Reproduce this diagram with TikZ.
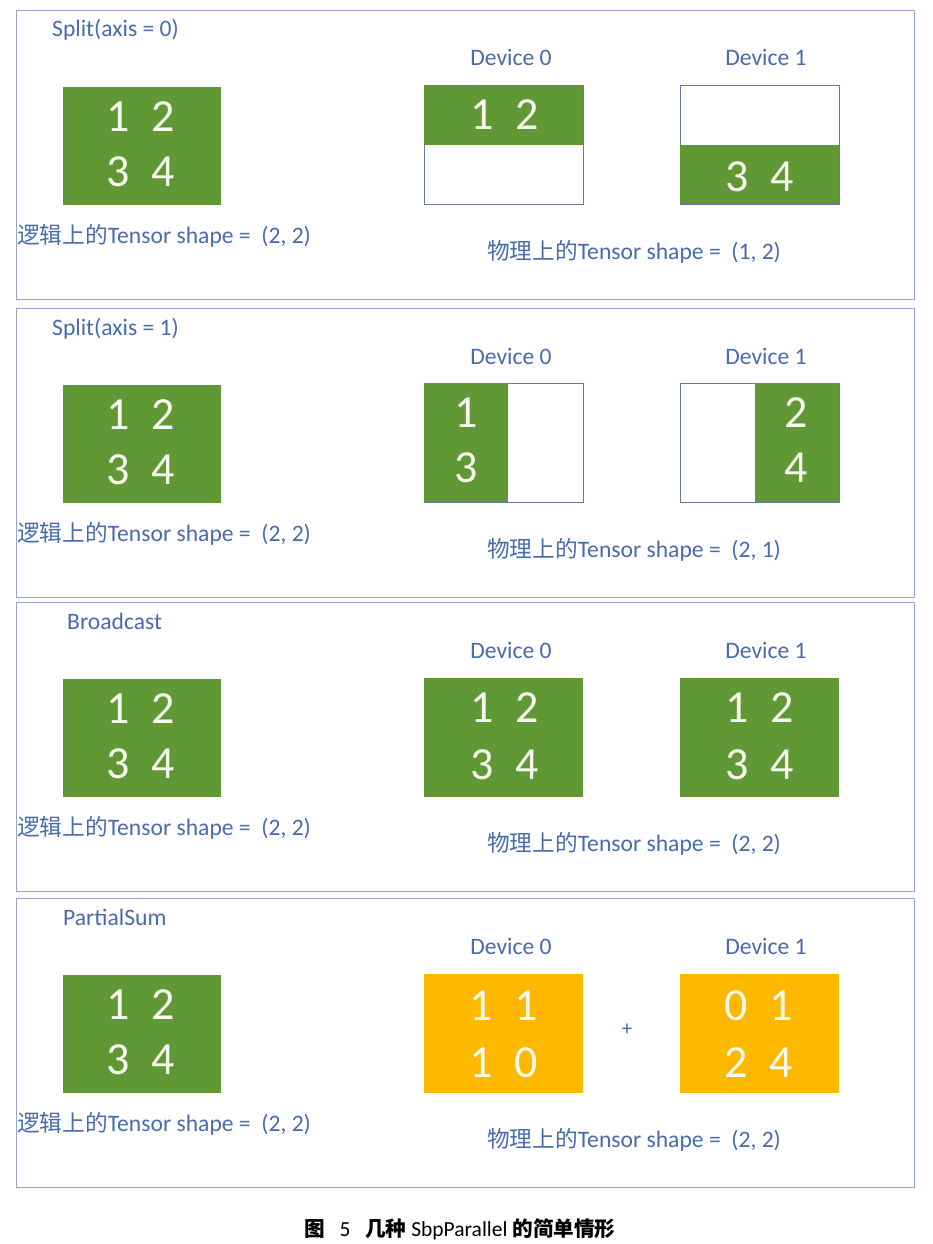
\documentclass[tikz,border=0pt]{standalone}
\usepackage{fontspec}
\setmainfont{Carlito}
\newfontfamily\cjk{Noto Sans CJK SC}[Scale=0.96]
\definecolor{tgreen}{RGB}{97,152,54}
\definecolor{torange}{RGB}{255,184,0}
\definecolor{lblc}{RGB}{72,108,170}
\definecolor{panelc}{RGB}{150,165,195}
\definecolor{boxc}{RGB}{100,120,160}
\definecolor{numc}{RGB}{246,250,236}
\begin{document}
\begin{tikzpicture}[x=1pt,y=-1pt,
  panel/.style={draw=panelc, line width=0.9pt, minimum width=898pt, minimum height=289pt, inner sep=0pt},
  gbox/.style={fill=tgreen, minimum width=158pt, minimum height=118pt, inner sep=0pt},
  obox/.style={fill=torange, minimum width=159pt, minimum height=119pt, inner sep=0pt},
  devbox/.style={draw=boxc, fill=white, line width=0.7pt, minimum width=159pt, minimum height=119pt, inner sep=0pt},
  gpart/.style={fill=tgreen, inner sep=0pt},
  num/.style={text=numc, font=\fontsize{46}{46}\selectfont, inner sep=0pt},
  lbl/.style={text=lblc, font=\fontsize{23.6}{23.6}\selectfont, inner sep=0pt},
  captext/.style={text=black, font=\fontsize{21.5}{21.5}\selectfont, inner sep=0pt}]
\useasboundingbox[fill=white] (0,0) rectangle (932,1244);

\foreach \i/\T/\ttl/\tx/\phys in {1/10/{Split(axis = 0)}/52/{(1, 2)}, 2/308/{Split(axis = 1)}/52/{(2, 1)}, 3/602/{Broadcast}/67/{(2, 2)}, 4/898/{PartialSum}/63/{(2, 2)}} {
  \node[panel, anchor=north west] (panel\i) at (16,\T) {};
  \node[lbl, anchor=base west] (title\i) at (\tx,\T+27) {\ttl};
  \node[lbl, anchor=base] (devA\i) at (511,\T+56) {Device 0};
  \node[lbl, anchor=base] (devB\i) at (766,\T+56) {Device 1};
  \node[gbox, anchor=north west] (log\i) at (63,\T+77) {};
  \node[num] (log\i a) at (118,\T+107) {1};
  \node[num] (log\i b) at (163,\T+107) {2};
  \node[num] (log\i c) at (118,\T+162) {3};
  \node[num] (log\i d) at (163,\T+162) {4};
  \node[lbl, anchor=base west] (logt\i) at (17,\T+233) {{\cjk 逻辑上的}Tensor shape =\ \ (2, 2)};
  \node[lbl, anchor=base west] (phys\i) at (487,\T+249) {{\cjk 物理上的}Tensor shape =\ \ \phys};
}

% panel 1: split axis 0
\node[devbox, anchor=north west] (d0p1) at (424,85) {};
\node[gpart, minimum width=159pt, minimum height=60pt, anchor=north west] (d0p1g) at (424,85) {};
\node[num] (d0p1a) at (482,115) {1};
\node[num] (d0p1b) at (527,115) {2};
\node[devbox, anchor=north west] (d1p1) at (680,85) {};
\node[gpart, minimum width=159pt, minimum height=59pt, anchor=south west] (d1p1g) at (680,204) {};
\node[num] (d1p1a) at (737,177) {3};
\node[num] (d1p1b) at (782,177) {4};

% panel 2: split axis 1
\node[devbox, anchor=north west] (d0p2) at (424,383) {};
\node[gpart, minimum width=84pt, minimum height=119pt, anchor=north west] (d0p2g) at (424,383) {};
\node[num] (d0p2a) at (466,413) {1};
\node[num] (d0p2b) at (466,468) {3};
\node[devbox, anchor=north west] (d1p2) at (680,383) {};
\node[gpart, minimum width=84pt, minimum height=119pt, anchor=north east] (d1p2g) at (839,383) {};
\node[num] (d1p2a) at (796,413) {2};
\node[num] (d1p2b) at (796,468) {4};

% panel 3: broadcast
\node[gbox, minimum width=159pt, minimum height=119pt, anchor=north west] (d0p3) at (424,678) {};
\node[num] (d0p3a) at (482,708) {1};
\node[num] (d0p3b) at (527,708) {2};
\node[num] (d0p3c) at (482,765) {3};
\node[num] (d0p3d) at (527,765) {4};
\node[gbox, minimum width=159pt, minimum height=119pt, anchor=north west] (d1p3) at (680,678) {};
\node[num] (d1p3a) at (737,708) {1};
\node[num] (d1p3b) at (782,708) {2};
\node[num] (d1p3c) at (737,765) {3};
\node[num] (d1p3d) at (782,765) {4};

% panel 4: partial sum
\node[obox, anchor=north west] (d0p4) at (424,974) {};
\node[num] (d0p4a) at (481,1006) {1};
\node[num] (d0p4b) at (526,1006) {1};
\node[num] (d0p4c) at (481,1063) {1};
\node[num] (d0p4d) at (526,1063) {0};
\node[obox, anchor=north west] (d1p4) at (680,974) {};
\node[num] (d1p4a) at (736,1006) {0};
\node[num] (d1p4b) at (781,1006) {1};
\node[num] (d1p4c) at (736,1063) {2};
\node[num] (d1p4d) at (781,1063) {4};
\node[text=lblc, font=\fontsize{21}{21}\selectfont, inner sep=0pt] (plus) at (627,1030) {+};

% caption
\node[captext, anchor=base] (caption) at (460,1236) {{\cjk\bfseries 图}\ \ \ 5\ \ \ {\cjk\bfseries 几种}\ SbpParallel\ {\cjk\bfseries 的简单情形}};
\end{tikzpicture}
\end{document}
